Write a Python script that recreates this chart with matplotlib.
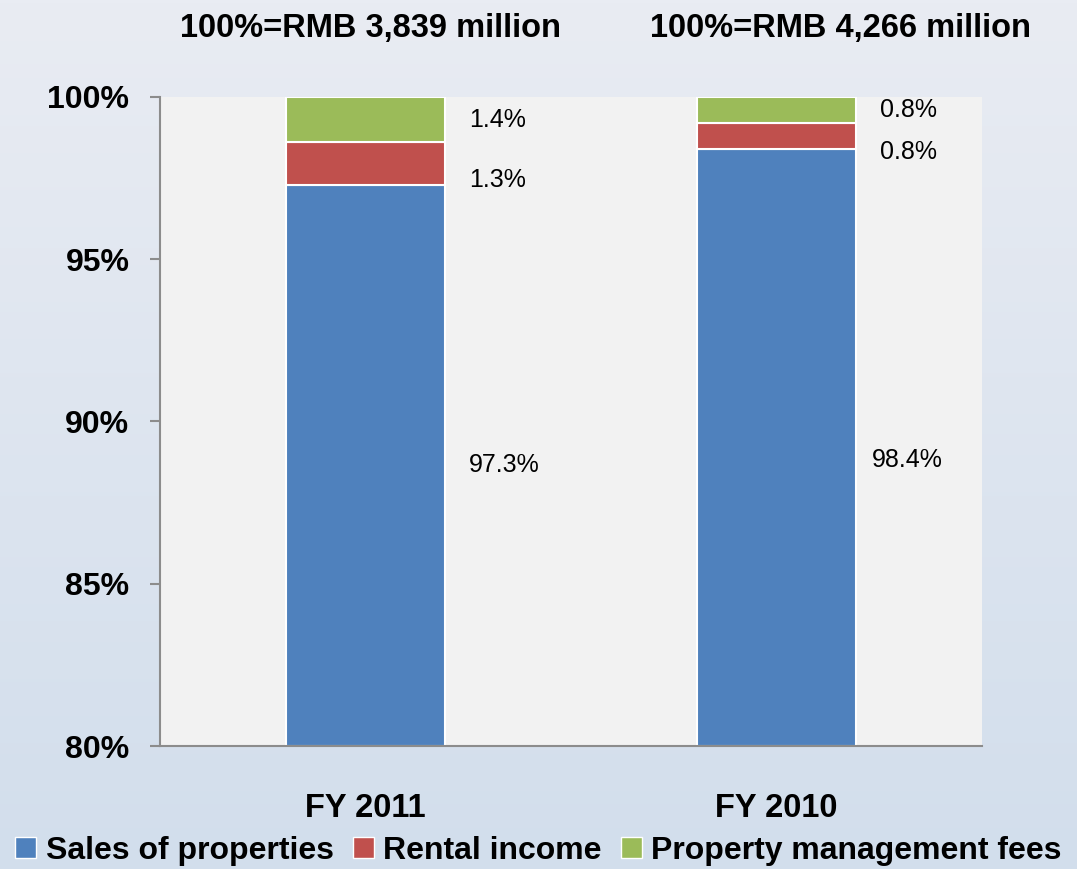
import numpy as np
import matplotlib
matplotlib.use("Agg")
import matplotlib.pyplot as plt
from matplotlib.patches import Patch

plt.rcParams['font.family'] = ['Liberation Sans', 'DejaVu Sans']

years = ["FY 2011", "FY 2010"]
totals = ["100%=RMB 3,839 million", "100%=RMB 4,266 million"]
segments = ["Sales of properties", "Rental income", "Property management fees"]
sales = [97.3, 98.4]
rental = [1.3, 0.8]
mgmt = [1.4, 0.8]
colors = ["#4f81bd", "#c0504d", "#9bbb59"]

fig = plt.figure(figsize=(10.77, 8.69), dpi=100)

# slide background gradient
bg = fig.add_axes([0, 0, 1, 1], zorder=-10)
grad = np.linspace(0, 1, 256).reshape(-1, 1)
top = np.array([233, 236, 243]) / 255
bot = np.array([210, 222, 236]) / 255
img = top + (bot - top) * grad[:, :, None]
bg.imshow(img, aspect='auto', extent=[0, 1, 0, 1])
bg.axis('off')

ax = fig.add_axes([160 / 1077, 1 - 746 / 869, 822 / 1077, 649 / 869])
ax.set_facecolor("#f2f2f2")

x = np.arange(len(years))
w = 0.385
base = 80
ax.bar(x, np.array(sales) - base, w, bottom=base, color=colors[0],
       edgecolor="white", linewidth=1.5)
ax.bar(x, rental, w, bottom=sales, color=colors[1],
       edgecolor="white", linewidth=1.5)
bottoms3 = np.array(sales) + np.array(rental)
ax.bar(x, mgmt, w, bottom=bottoms3, color=colors[2],
       edgecolor="white", linewidth=1.5)

ax.set_xlim(-0.5, 1.5)
ax.set_ylim(80, 100)
ax.set_yticks([80, 85, 90, 95, 100])
ax.set_yticklabels(["80%", "85%", "90%", "95%", "100%"], fontsize=23, fontweight='bold')
ax.set_xticks([])
for s in ["top", "right"]:
    ax.spines[s].set_visible(False)
for s in ["left", "bottom"]:
    ax.spines[s].set_color("#8c8c8c")
    ax.spines[s].set_linewidth(1.5)
ax.tick_params(axis='y', length=7, width=1.5, color="#8c8c8c", pad=15)

# data labels right of bars
for i in range(len(years)):
    xl = x[i] + w / 2 + 0.06
    ax.text(xl - 0.02 * i, (base + sales[i]) / 2 - 0.4 * i, "%.1f%%" % sales[i],
            fontsize=18, va='center', ha='left')
    ax.text(xl, sales[i] + rental[i] / 2 - 0.5, "%.1f%%" % rental[i],
            fontsize=18, va='center', ha='left')
    ax.text(xl, bottoms3[i] + mgmt[i] / 2, "%.1f%%" % mgmt[i],
            fontsize=18, va='center', ha='left')

# totals above the chart
fig.text(370 / 1077, 1 - 29 / 869, totals[0], fontsize=23.5, fontweight='bold',
         ha='center', va='center')
fig.text(840 / 1077, 1 - 29 / 869, totals[1], fontsize=23.5, fontweight='bold',
         ha='center', va='center')

# category labels
for i, yr in enumerate(years):
    ax.text(x[i], -0.096, yr, transform=ax.get_xaxis_transform(), fontsize=23.5,
            fontweight='bold', ha='center', va='center')

handles = [Patch(facecolor=c, edgecolor='white') for c in colors]
fig.legend(handles, segments, loc='center', bbox_to_anchor=(0.5, 1 - 851 / 869),
           ncol=3, frameon=False, prop={'size': 23, 'weight': 'bold'},
           handlelength=0.65, handleheight=0.65, handletextpad=0.3, columnspacing=0.6)

fig.savefig("out.png", dpi=100)
